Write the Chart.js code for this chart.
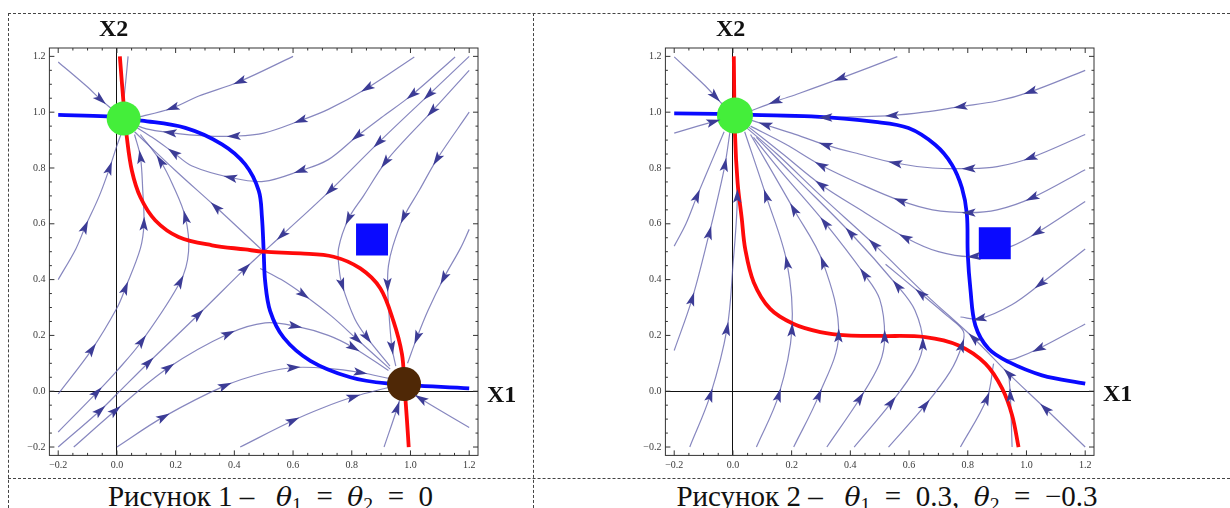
<!DOCTYPE html>
<html>
<head>
<meta charset="utf-8">
<script src="https://cdn.jsdelivr.net/npm/chart.js@4.4.1/dist/chart.umd.min.js"></script>
<style>
  body { margin: 0; width: 1230px; height: 508px; overflow: hidden; background: #fff; position: relative; font-family: "Liberation Serif", serif; }
  .dash-h { position: absolute; height: 0; border-top: 1px dashed #444; }
  .dash-v { position: absolute; width: 0; border-left: 1px dashed #444; }
  .panel { position: absolute; top: 0; width: 533px; height: 478px; }
  .axname { position: absolute; font: bold 24px "Liberation Serif", serif; line-height: 24px; color: #111; }
  .caption { position: absolute; top: 482px; font-size: 29px; line-height: 29px; text-align: center; color: #111; white-space: nowrap; }
  .caption sub { font-size: 0.68em; vertical-align: -0.25em; line-height: 0; }
  .caption i { font-family: "DejaVu Serif", serif; font-size: 0.92em; }
</style>
</head>
<body>
<div class="dash-h" style="left:8px; top:13px; width:1222px;"></div>
<div class="dash-h" style="left:8px; top:478px; width:1222px;"></div>
<div class="dash-v" style="left:8px; top:13px; height:495px;"></div>
<div class="dash-v" style="left:533px; top:13px; height:495px;"></div>

<div class="panel" style="left:0px;"><canvas id="chart1" width="533" height="478"></canvas></div>
<div class="panel" style="left:616px;"><canvas id="chart2" width="533" height="478"></canvas></div>

<div class="axname" style="left:99px; top:16px;">X2</div>
<div class="axname" style="left:487px; top:382px;">X1</div>
<div class="axname" style="left:716px; top:16px;">X2</div>
<div class="axname" style="left:1103px; top:381px;">X1</div>

<div class="caption" style="left:8px; width:525px;">Рисунок 1 –&nbsp;&nbsp; <i>θ</i><sub>1</sub>&nbsp; =&nbsp; <i>θ</i><sub>2</sub>&nbsp; =&nbsp; 0</div>
<div class="caption" style="left:533px; width:708px;">Рисунок 2 –&nbsp;&nbsp; <i>θ</i><sub>1</sub>&nbsp; =&nbsp; 0.3,&nbsp; <i>θ</i><sub>2</sub>&nbsp; =&nbsp; −0.3</div>

<script>
// Ejes (valores de las marcas).
const tickValues = [-0.2, 0, 0.2, 0.4, 0.6, 0.8, 1.0, 1.2];

// Colores.
const streamColor = "rgba(95, 95, 170, 0.75)";
const arrowColor = "#3c3c96";
const redColor = "#ff0a0a";
const blueColor = "#0a0aff";
const greenColor = "#44ee3a";
const brownColor = "#4f2806";

// ---------- Figura 1: theta1 = theta2 = 0 ----------
// Isoclinas (x1, x2).
const redLeft = [[0.01, 1.2], [0.023, 1.027], [0.034, 0.908], [0.051, 0.79], [0.08, 0.695], [0.131, 0.612], [0.21, 0.553], [0.324, 0.523], [0.437, 0.508], [0.5, 0.5], [0.625, 0.494], [0.738, 0.482], [0.829, 0.44], [0.897, 0.369], [0.942, 0.251], [0.971, 0.133], [0.979, 0.026], [0.988, -0.104], [0.994, -0.2]];
const blueLeft = [[-0.2, 0.99], [-0.034, 0.985], [0.085, 0.97], [0.233, 0.944], [0.358, 0.885], [0.437, 0.813], [0.483, 0.719], [0.494, 0.624], [0.5, 0.5], [0.505, 0.393], [0.522, 0.287], [0.568, 0.192], [0.659, 0.109], [0.795, 0.05], [0.92, 0.028], [1.2, 0.01]];

// Trayectorias (tercer valor = 1 -> flecha en ese punto).
const streamsLeft = [
  [[-0.2, 1.18], [-0.1, 1.09], [-0.055, 1.045, 1], [-0.01, 1.005]],
  [[0.038, 1.2], [0.03, 1.11], [0.022, 1.03]],
  [[0.6, 1.2], [0.418, 1.11, 1], [0.277, 1.057], [0.189, 1.015, 1], [0.088, 0.986], [0.03, 0.975]],
  [[1.013, 1.198], [0.852, 1.086, 1], [0.72, 1.01], [0.625, 0.97, 1], [0.5, 0.925], [0.398, 0.914, 1], [0.3, 0.915], [0.18, 0.927, 1], [0.1, 0.94], [0.05, 0.96]],
  [[1.152, 1.198], [1.005, 1.062, 1], [0.9, 0.98], [0.818, 0.914, 1], [0.72, 0.83], [0.625, 0.79, 1], [0.5, 0.752], [0.386, 0.766, 1], [0.256, 0.807], [0.193, 0.855, 1], [0.12, 0.91], [0.06, 0.95]],
  [[1.2, 1.2], [1.062, 1.062, 1], [0.891, 0.891, 1], [0.727, 0.72, 1], [0.562, 0.559, 1], [0.5, 0.5]],
  [[1.2, 1.15], [1.073, 1.003, 1], [0.98, 0.9], [0.914, 0.82, 1], [0.84, 0.7], [0.789, 0.618, 1], [0.755, 0.512], [0.757, 0.44], [0.767, 0.381, 1], [0.81, 0.26], [0.852, 0.192, 1], [0.93, 0.09]],
  [[1.2, 1.0], [1.09, 0.831, 1], [1.03, 0.72], [0.977, 0.624, 1], [0.94, 0.52], [0.925, 0.45], [0.922, 0.381, 1], [0.928, 0.26], [0.937, 0.156, 1], [0.95, 0.09]],
  [[1.2, 0.58], [1.17, 0.512], [1.113, 0.405, 1], [1.06, 0.29], [1.022, 0.192, 1], [0.99, 0.1]],
  [[0.488, 0.44], [0.56, 0.4], [0.636, 0.346, 1], [0.73, 0.27], [0.818, 0.186, 1], [0.931, 0.079]],
  [[0.49, 0.51], [0.337, 0.66, 1], [0.2, 0.79], [0.06, 0.93]],
  [[-0.2, 0.4], [-0.14, 0.51], [-0.108, 0.589, 1], [-0.06, 0.7], [-0.025, 0.8, 1], [0.0, 0.88], [0.017, 0.93]],
  [[-0.2, -0.01], [-0.085, 0.15, 1], [0, 0.298], [0.029, 0.37, 1], [0.08, 0.512], [0.092, 0.6, 1], [0.088, 0.72], [0.08, 0.84, 1], [0.06, 0.92]],
  [[-0.2, -0.146], [-0.068, -0.004, 1], [0, 0.073], [0.085, 0.18, 1], [0.216, 0.393, 1], [0.244, 0.5], [0.233, 0.624, 1], [0.19, 0.74], [0.148, 0.825, 1], [0.08, 0.92]],
  [[-0.2, -0.2], [-0.057, -0.069, 1], [0, -0.01], [0.108, 0.103, 1], [0.278, 0.275, 1], [0.437, 0.44, 1], [0.495, 0.497]],
  [[-0.147, -0.2], [-0.005, -0.069, 1], [0.176, 0.085, 1], [0.38, 0.206, 1], [0.505, 0.245], [0.608, 0.233, 1], [0.72, 0.2], [0.806, 0.156, 1], [0.925, 0.074]],
  [[0, -0.2], [0.159, -0.092, 1], [0.369, 0.02, 1], [0.505, 0.067], [0.602, 0.085, 1], [0.72, 0.082], [0.83, 0.067, 1], [0.93, 0.045]],
  [[0.42, -0.2], [0.6, -0.105, 1], [0.7, -0.06], [0.806, -0.02, 1], [0.93, 0.015]],
  [[0.91, -0.2], [0.955, -0.06, 1], [0.968, -0.01]],
  [[1.2, -0.13], [1.035, -0.027, 1], [1.0, 0.0]],
];

// Puntos de equilibrio y marcador.
const greenLeft = [0.023, 0.977];
const brownLeft = [0.978, 0.026];
const squareLeft = [0.869, 0.544];

// ---------- Figura 2: theta1 = 0.3, theta2 = -0.3 ----------
const redRight = [[0.003, 1.2], [0.007, 0.925], [0.016, 0.747], [0.03, 0.62], [0.042, 0.509], [0.071, 0.39], [0.127, 0.295], [0.207, 0.241], [0.298, 0.212], [0.389, 0.2], [0.502, 0.198], [0.655, 0.194], [0.769, 0.164], [0.86, 0.099], [0.917, 0.01], [0.951, -0.086], [0.973, -0.2]];
const blueRight = [[-0.2, 0.996], [-0.06, 0.994], [0.067, 0.99], [0.267, 0.985], [0.485, 0.965], [0.598, 0.943], [0.689, 0.883], [0.746, 0.812], [0.78, 0.729], [0.797, 0.634], [0.8, 0.491], [0.809, 0.366], [0.826, 0.235], [0.871, 0.152], [0.939, 0.105], [1.053, 0.057], [1.2, 0.027]];

const streamsRight = [
  [[-0.2, 1.198], [-0.1, 1.1], [-0.06, 1.056, 1], [-0.02, 1.01]],
  [[-0.2, 0.925], [-0.12, 0.95], [-0.066, 0.966, 1], [-0.02, 0.98]],
  [[0.56, 1.199], [0.366, 1.121, 1], [0.227, 1.068], [0.144, 1.038, 1], [0.05, 1.0]],
  [[1.2, 1.15], [1.013, 1.073, 1], [0.9, 1.04], [0.775, 1.02, 1], [0.65, 1.0], [0.542, 0.988, 1], [0.4, 0.983], [0.315, 0.981, 1], [0.15, 0.985], [0.05, 0.99]],
  [[1.2, 0.92], [1.013, 0.836, 1], [0.9, 0.805], [0.803, 0.798, 1], [0.68, 0.8], [0.553, 0.818, 1], [0.43, 0.85], [0.315, 0.883, 1], [0.2, 0.925], [0.11, 0.955, 1], [0.05, 0.975]],
  [[1.2, 0.794], [1.019, 0.693, 1], [0.9, 0.65], [0.803, 0.64, 1], [0.68, 0.65], [0.57, 0.683, 1], [0.45, 0.735], [0.3, 0.81, 1], [0.18, 0.885], [0.06, 0.95]],
  [[1.2, 0.68], [1.036, 0.568, 1], [0.95, 0.52], [0.82, 0.483, 1], [0.7, 0.5], [0.587, 0.551, 1], [0.45, 0.64], [0.3, 0.74, 1], [0.17, 0.85], [0.05, 0.95]],
  [[1.2, 0.51], [1.047, 0.384, 1], [0.95, 0.31], [0.84, 0.26, 1], [0.775, 0.266]],
  [[1.2, 0.241], [1.041, 0.152, 1], [0.962, 0.117], [0.93, 0.11]],
  [[1.2, -0.2], [1.064, -0.062, 1], [0.939, 0.063, 1], [0.82, 0.19, 1], [0.655, 0.348], [0.48, 0.527, 1], [0.3, 0.7], [0.15, 0.85], [0.04, 0.95]],
  [[-0.2, 0.52], [-0.16, 0.6], [-0.122, 0.7, 1], [-0.07, 0.83], [-0.03, 0.93]],
  [[-0.2, 0.146], [-0.139, 0.331, 1], [-0.08, 0.568, 1], [-0.05, 0.7], [-0.027, 0.812, 1], [-0.01, 0.93]],
  [[-0.147, -0.2], [-0.077, -0.014, 1], [-0.02, 0.224, 1], [0.0, 0.45], [0.015, 0.7, 1], [0.005, 0.92]],
  [[0.08, -0.2], [0.156, -0.014, 1], [0.201, 0.22, 1], [0.184, 0.461, 1], [0.113, 0.7, 1], [0.04, 0.93]],
  [[0.207, -0.2], [0.293, -0.014, 1], [0.36, 0.2, 1], [0.307, 0.461, 1], [0.207, 0.652, 1], [0.06, 0.92]],
  [[0.32, -0.2], [0.433, -0.025, 1], [0.5, 0.1], [0.517, 0.195, 1], [0.5, 0.33], [0.447, 0.42, 1], [0.313, 0.604, 1], [0.17, 0.78], [0.07, 0.91]],
  [[0.413, -0.2], [0.54, -0.04, 1], [0.62, 0.08], [0.647, 0.17, 1], [0.62, 0.29], [0.56, 0.378, 1], [0.4, 0.568, 1], [0.2, 0.78], [0.08, 0.91]],
  [[0.53, -0.2], [0.655, -0.05, 1], [0.74, 0.07], [0.78, 0.164, 1], [0.785, 0.215], [0.73, 0.27], [0.64, 0.35, 1], [0.52, 0.455]],
  [[0.775, -0.2], [0.865, -0.026, 1], [0.888, 0.099]],
  [[0.951, -0.2], [0.945, -0.014, 1], [0.939, 0.069]],
];

const greenRight = [0.007, 0.988];
const squareRight = [0.892, 0.53];

// Dibuja las flechas sobre las trayectorias.
const arrowPlugin = {
  id: "streamArrows",
  afterDatasetsDraw(chart) {
    const ctx = chart.ctx;
    ctx.save();
    ctx.fillStyle = arrowColor;
    chart.data.datasets.forEach((ds, i) => {
      if (!ds.arrows) return;
      const pts = chart.getDatasetMeta(i).data;
      ds.arrows.forEach(k => {
        const p = pts[k];
        const a = pts[k - 1] || p;
        const b = pts[k + 1] || p;
        const ang = Math.atan2(b.y - a.y, b.x - a.x);
        ctx.save();
        ctx.translate(p.x, p.y);
        ctx.rotate(ang);
        ctx.beginPath();
        ctx.moveTo(7, 0);
        ctx.lineTo(-7, -4.2);
        ctx.lineTo(-4, 0);
        ctx.lineTo(-7, 4.2);
        ctx.closePath();
        ctx.fill();
        ctx.restore();
      });
    });
    ctx.restore();
  },
};

// Marco con marcas hacia dentro en los cuatro lados.
const framePlugin = {
  id: "frame",
  afterDraw(chart) {
    const { ctx, chartArea: area, scales } = chart;
    ctx.save();
    ctx.strokeStyle = "#333";
    ctx.lineWidth = 1;
    ctx.strokeRect(area.left, area.top, area.right - area.left, area.bottom - area.top);
    ctx.beginPath();
    for (let k = -4; k <= 24; k++) {
      const v = k * 0.05;
      const len = k % 4 === 0 ? 5 : 2.5;
      const px = scales.x.getPixelForValue(v);
      const py = scales.y.getPixelForValue(v);
      ctx.moveTo(px, area.bottom); ctx.lineTo(px, area.bottom - len);
      ctx.moveTo(px, area.top); ctx.lineTo(px, area.top + len);
      ctx.moveTo(area.left, py); ctx.lineTo(area.left + len, py);
      ctx.moveTo(area.right, py); ctx.lineTo(area.right - len, py);
    }
    ctx.stroke();
    ctx.restore();
  },
};

function toXY(points) {
  return points.map(p => ({ x: p[0], y: p[1] }));
}

function streamDataset(points) {
  return {
    data: toXY(points),
    arrows: points.map((p, i) => (p[2] ? i : -1)).filter(i => i >= 0),
    showLine: true,
    borderColor: streamColor,
    borderWidth: 1.2,
    pointRadius: 0,
    tension: 0.35,
    order: 3,
  };
}

function curveDataset(points, color) {
  return {
    data: toXY(points),
    showLine: true,
    borderColor: color,
    borderWidth: 3.8,
    pointRadius: 0,
    tension: 0.35,
    order: 2,
  };
}

function dotDataset(pos, color, radius, style) {
  return {
    data: toXY([pos]),
    pointStyle: style || "circle",
    pointRadius: radius,
    pointBackgroundColor: color,
    pointBorderWidth: 0,
    order: 1,
  };
}

function tickLabel(v) {
  const s = Math.abs(v).toFixed(1);
  return v < 0 ? "−" + s : s;
}

function renderPhasePortrait(idCanvas, streams, red, blue, dots) {
  const datasets = streams.map(streamDataset);
  datasets.push(curveDataset(red, redColor));
  datasets.push(curveDataset(blue, blueColor));
  dots.forEach(d => datasets.push(d));

  const axis = {
    type: "linear",
    min: -0.23,
    max: 1.23,
    afterBuildTicks: scale => { scale.ticks = tickValues.map(v => ({ value: v })); },
    ticks: {
      callback: v => tickLabel(v),
      font: { family: "Liberation Serif", size: 10 },
      color: "#3a3a3a",
      padding: 4,
      maxRotation: 0,
    },
    grid: {
      drawTicks: false,
      color: c => (c.tick && Math.abs(c.tick.value) < 1e-9 ? "#111" : "rgba(0,0,0,0)"),
      lineWidth: 1,
    },
    border: { display: false },
  };

  new Chart(document.getElementById(idCanvas).getContext("2d"), {
    type: "scatter",
    data: { datasets: datasets },
    options: {
      responsive: false,
      animation: false,
      layout: { padding: { left: 8, right: 55, top: 48, bottom: 0 } },
      plugins: { legend: { display: false }, tooltip: { enabled: false } },
      scales: {
        x: Object.assign({}, axis, { afterFit: s => { s.height = 19; } }),
        y: Object.assign({}, axis, { afterFit: s => { s.width = 41.4; } }),
      },
    },
    plugins: [arrowPlugin, framePlugin],
  });
}

renderPhasePortrait("chart1", streamsLeft, redLeft, blueLeft, [
  dotDataset(greenLeft, greenColor, 17),
  dotDataset(brownLeft, brownColor, 17),
  dotDataset(squareLeft, blueColor, 22.6, "rect"),
]);

renderPhasePortrait("chart2", streamsRight, redRight, blueRight, [
  dotDataset(greenRight, greenColor, 18),
  dotDataset(squareRight, blueColor, 22.6, "rect"),
]);
</script>
</body>
</html>
